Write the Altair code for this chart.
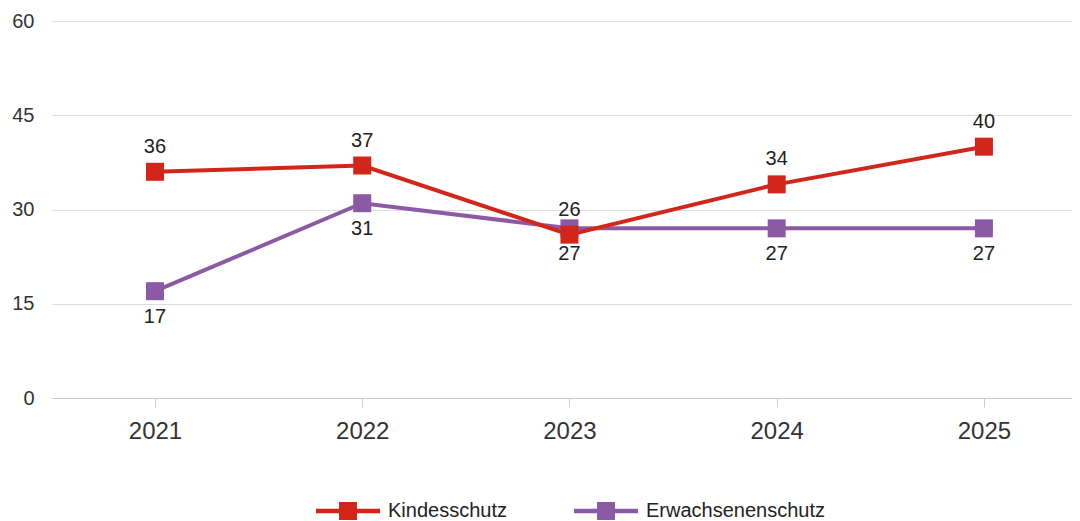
import altair as alt
import pandas as pd

years = [2021, 2022, 2023, 2024, 2025]
kindesschutz = [36, 37, 26, 34, 40]
erwachsenenschutz = [17, 31, 27, 27, 27]
series_names = ["Kindesschutz", "Erwachsenenschutz"]
series_colors = ["#D2261B", "#8C5AA4"]
y_ticks = [0, 15, 30, 45, 60]

rows = []
for yr, v in zip(years, kindesschutz):
    rows.append({"year": yr, "value": v, "series": series_names[0]})
for yr, v in zip(years, erwachsenenschutz):
    rows.append({"year": yr, "value": v, "series": series_names[1]})
df = pd.DataFrame(rows)

FONT = "Liberation Sans"

x = alt.X("year:Q", title=None,
          scale=alt.Scale(domain=[2020.503, 2025.425], nice=False, zero=False),
          axis=alt.Axis(values=years, format="d", labelAngle=0, labelFontSize=24,
                        labelColor="#333333", labelFont=FONT, tickColor="#cccccc",
                        tickSize=9, domainColor="#cccccc", labelPadding=12,
                        grid=False, labelFlush=False))
y = alt.Y("value:Q", title=None,
          scale=alt.Scale(domain=[0, 60], nice=False, zero=True),
          axis=alt.Axis(values=y_ticks, domain=False, ticks=False,
                        gridColor="#dddddd", labelFontSize=20, labelColor="#333333",
                        labelFont=FONT, labelPadding=18))

color_scale = alt.Scale(domain=series_names, range=series_colors)

legend_path = ("M-1,-0.07L1,-0.07L1,0.07L-1,0.07Z"
               "M-0.28,-0.28L0.28,-0.28L0.28,0.28L-0.28,0.28Z")

base = alt.Chart(df)

layers = []
for name, col in [(series_names[1], series_colors[1]), (series_names[0], series_colors[0])]:
    sub = base.transform_filter(alt.datum.series == name)
    line = sub.mark_line(strokeWidth=4, color=col).encode(x=x, y=y)
    pts = sub.mark_square(size=324, opacity=1, filled=True).encode(
        x=x, y=y,
        fill=alt.Fill("series:N", scale=color_scale,
                      legend=alt.Legend(title=None, orient="none", direction="horizontal",
                                        legendX=264, legendY=458,
                                        symbolType=legend_path, symbolSize=4096,
                                        symbolStrokeWidth=0, labelFontSize=20,
                                        labelFont=FONT, labelColor="#222222",
                                        labelOffset=8, columnPadding=67,
                                        labelLimit=400)))
    layers += [line, pts]

lab_k = base.transform_filter(alt.datum.series == series_names[0]).mark_text(
    dy=-25, fontSize=20, font=FONT, color="#222222").encode(x=x, y=y, text="value:Q")
lab_e = base.transform_filter(alt.datum.series == series_names[1]).mark_text(
    dy=26, fontSize=20, font=FONT, color="#222222").encode(x=x, y=y, text="value:Q")

chart = alt.layer(*layers, lab_k, lab_e).properties(
    width=1020, height=377,
    background="white",
    autosize=alt.AutoSizeParams(type="none"),
    padding={"left": 44, "top": 13, "right": 0, "bottom": 123},
).configure_view(stroke=None)

chart.save("out.html", embed_options={"renderer": "svg", "actions": False})
